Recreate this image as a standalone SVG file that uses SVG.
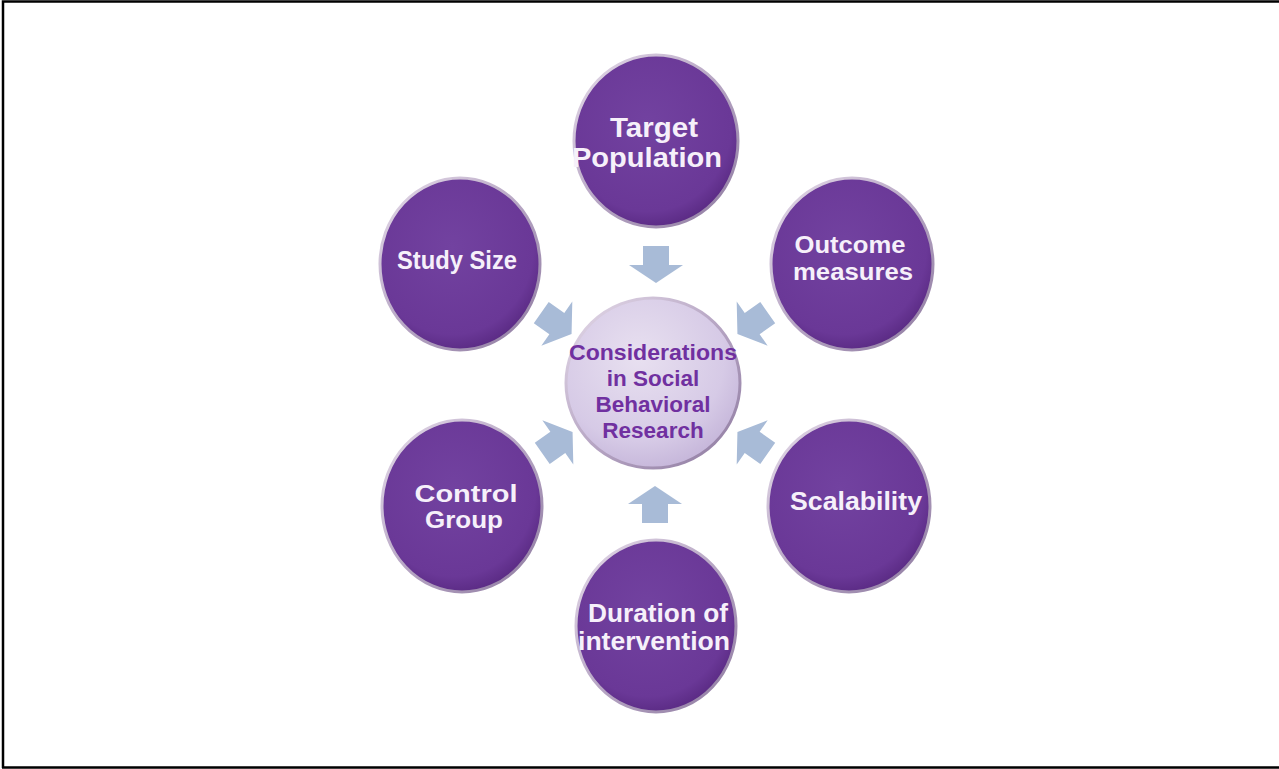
<svg xmlns="http://www.w3.org/2000/svg" width="1279" height="769" viewBox="0 0 1279 769">
<defs>
<radialGradient id="pg" cx="0.45" cy="0.4" r="0.6">
<stop offset="0" stop-color="#7242a0"/>
<stop offset="0.85" stop-color="#6a3897"/>
<stop offset="1" stop-color="#5c2c86"/>
</radialGradient>
<linearGradient id="rim" x1="0" y1="0" x2="1" y2="1">
<stop offset="0" stop-color="#e6dcea"/>
<stop offset="0.5" stop-color="#b7a6c4"/>
<stop offset="1" stop-color="#8e7aa0"/>
</linearGradient>
<radialGradient id="cg" cx="0.42" cy="0.35" r="0.7">
<stop offset="0" stop-color="#e8e0f0"/>
<stop offset="0.7" stop-color="#d6cae6"/>
<stop offset="1" stop-color="#c3b3d8"/>
</radialGradient>
<path id="arr" d="M-18,-13 L1,-13 L1,-27 L19,0 L1,27 L1,13 L-18,13 Z"/>
</defs>
<style>
.node{fill:url(#pg);stroke:url(#rim);stroke-width:3}
.ctr{fill:url(#cg);stroke:url(#rim);stroke-width:3}
.t{font-family:"Liberation Sans",Arial,sans-serif;font-weight:bold;fill:#f6f0fa;text-anchor:middle}
.ct{font-family:"Liberation Sans",Arial,sans-serif;font-weight:bold;fill:#7030a0;text-anchor:middle;font-size:22.5px}
.a{fill:#a8bbd7}
</style>
<rect width="1279" height="769" fill="#ffffff"/>
<path d="M3,768 L3,1.5 L1279,1.5 M2,767.5 L1279,767.5" fill="none" stroke="#000" stroke-width="2.5"/>
<g id="connectors">
<use href="#arr" class="a" transform="translate(656,264) rotate(90)"/>
<use href="#arr" class="a" transform="translate(655,505) rotate(-90)"/>
<use href="#arr" class="a" transform="translate(556,323) rotate(35)"/>
<use href="#arr" class="a" transform="translate(753,323) rotate(145)"/>
<use href="#arr" class="a" transform="translate(557,443) rotate(-35)"/>
<use href="#arr" class="a" transform="translate(753,443) rotate(-145)"/>
</g>
<g id="center">
<ellipse class="ctr" cx="653" cy="383" rx="87" ry="85"/>
<text class="ct" x="653" y="360" textLength="168" lengthAdjust="spacingAndGlyphs">Considerations</text>
<text class="ct" x="653" y="386">in Social</text>
<text class="ct" x="653" y="412">Behavioral</text>
<text class="ct" x="653" y="438">Research</text>
</g>
<g id="target">
<ellipse class="node" cx="656" cy="141" rx="82" ry="86"/>
<text class="t" x="654" y="137" font-size="27" textLength="88" lengthAdjust="spacingAndGlyphs">Target</text>
<text class="t" x="647" y="167" font-size="27" textLength="150" lengthAdjust="spacingAndGlyphs">Population</text>
</g>
<g id="study">
<ellipse class="node" cx="460" cy="264" rx="80" ry="86"/>
<text class="t" x="457" y="269" font-size="25" textLength="120" lengthAdjust="spacingAndGlyphs">Study Size</text>
</g>
<g id="outcome">
<ellipse class="node" cx="852" cy="264" rx="81" ry="86"/>
<text class="t" x="850" y="253" font-size="24.5" textLength="111" lengthAdjust="spacingAndGlyphs">Outcome</text>
<text class="t" x="853" y="280" font-size="24.5" textLength="120" lengthAdjust="spacingAndGlyphs">measures</text>
</g>
<g id="control">
<ellipse class="node" cx="462" cy="506" rx="80" ry="86"/>
<text class="t" x="466" y="502" font-size="23.5" textLength="103" lengthAdjust="spacingAndGlyphs">Control</text>
<text class="t" x="464" y="528" font-size="23.5" textLength="78" lengthAdjust="spacingAndGlyphs">Group</text>
</g>
<g id="scalability">
<ellipse class="node" cx="849" cy="506" rx="81" ry="86"/>
<text class="t" x="856" y="510" font-size="26.5" textLength="132" lengthAdjust="spacingAndGlyphs">Scalability</text>
</g>
<g id="duration">
<ellipse class="node" cx="656" cy="626" rx="80" ry="86"/>
<text class="t" x="658" y="622" font-size="25.5" textLength="140" lengthAdjust="spacingAndGlyphs">Duration of</text>
<text class="t" x="654" y="650" font-size="25.5" textLength="152" lengthAdjust="spacingAndGlyphs">intervention</text>
</g>
</svg>
